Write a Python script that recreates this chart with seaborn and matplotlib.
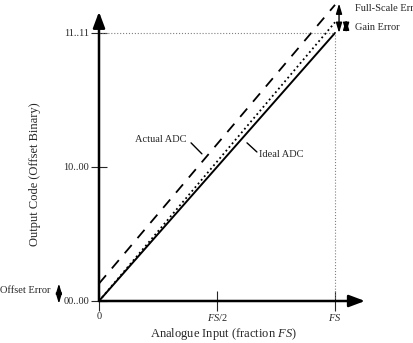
import numpy as np
import pandas as pd
import matplotlib
matplotlib.use("Agg")
import matplotlib.pyplot as plt
import seaborn as sns

# --- data (fraction of full scale) ---
x_input = [0.0, 1.0]
ideal_adc = [0.0, 1.0]
gain_only = [0.0, 1.04]
actual_adc = [0.065, 1.105]
x_ticks = [0.0, 0.5, 1.0]
x_tick_labels = ["0", "$FS$/2", "$FS$"]
y_ticks = [0.0, 0.5, 1.0]
y_tick_labels = ["00..00", "10..00", "11..11"]

df = pd.DataFrame({
    "x": x_input * 3,
    "y": ideal_adc + gain_only + actual_adc,
    "series": ["Ideal ADC"] * 2 + ["Gain"] * 2 + ["Actual ADC"] * 2,
})

sns.set_theme(style="white")
plt.rcParams["font.family"] = ["Liberation Serif", "DejaVu Serif"]
plt.rcParams["mathtext.fontset"] = "custom"
plt.rcParams["mathtext.it"] = "Liberation Serif:italic"
plt.rcParams["mathtext.rm"] = "Liberation Serif"

fig = plt.figure(figsize=(4.13, 3.43), dpi=100)
ax = fig.add_axes([99 / 413, 42 / 343, 266 / 413, 301 / 343])
ax.set_xlim(0, 1.127)
ax.set_ylim(0, 1.123)

styles = {"Ideal ADC": (1.4, "-"), "Gain": (1.3, ":"), "Actual ADC": (1.3, (0, (6, 5)))}
for name, (lw, ls) in styles.items():
    sub = df[df["series"] == name]
    sns.lineplot(data=sub, x="x", y="y", ax=ax, color="black", lw=lw,
                 linestyle=ls, legend=False, clip_on=False)

for s in ax.spines.values():
    s.set_visible(False)

# axis arrows
ax.annotate("", xy=(1.127, 0), xytext=(0, 0), annotation_clip=False,
            arrowprops=dict(arrowstyle="-|>,head_length=0.8,head_width=0.3",
                            color="black", lw=1.8, shrinkA=0, shrinkB=0))
ax.annotate("", xy=(0, 1.079), xytext=(0, 0), annotation_clip=False,
            arrowprops=dict(arrowstyle="-|>,head_length=0.8,head_width=0.3",
                            color="black", lw=1.8, shrinkA=0, shrinkB=0))

# reference dotted lines
ax.plot([0, 1], [1, 1], color="gray", lw=0.8, ls=":")
ax.plot([1, 1], [0, 1], color="gray", lw=0.8, ls=":")

ax.set_xticks(x_ticks)
ax.set_xticklabels(x_tick_labels)
ax.set_yticks(y_ticks)
ax.set_yticklabels(y_tick_labels)
ax.tick_params(direction="inout", width=0.8, labelsize=7.5, bottom=True, left=True)
ax.tick_params(axis="x", length=14, pad=1)
ax.tick_params(axis="y", length=12, pad=1)
ax.set_xlabel("")
ax.set_ylabel("")

# error arrows
dbl = dict(arrowstyle="<|-|>,head_length=0.5,head_width=0.15", color="black",
           lw=1.0, shrinkA=0, shrinkB=0)
ax.annotate("", xy=(1.017, 1.11), xytext=(1.017, 1.0), annotation_clip=False, arrowprops=dbl)
ax.annotate("", xy=(1.047, 1.05), xytext=(1.047, 1.0), annotation_clip=False, arrowprops=dbl)
ax.annotate("", xy=(-0.17, 0.065), xytext=(-0.17, -0.01), annotation_clip=False, arrowprops=dbl)

ax.text(1.085, 1.09, "Full-Scale Error", fontsize=7.5, va="center", ha="left", clip_on=False)
ax.text(1.085, 1.02, "Gain Error", fontsize=7.5, va="center", ha="left", clip_on=False)
ax.text(-0.205, 0.038, "Offset Error", fontsize=7.5, va="center", ha="right", clip_on=False)

# series labels with pointers
ax.text(0.369, 0.602, "Actual ADC", fontsize=7.5, ha="right", va="center")
ax.plot([0.390, 0.436], [0.590, 0.549], color="black", lw=1.0)
ax.text(0.678, 0.545, "Ideal ADC", fontsize=7.5, ha="left", va="center")
ax.plot([0.627, 0.669], [0.590, 0.556], color="black", lw=1.0)

# axis titles
ax.text(-0.271, 0.474, "Output Code (Offset Binary)", rotation=90, fontsize=9,
        ha="center", va="center", clip_on=False)
ax.text(0.525, -0.122, "Analogue Input (fraction $FS$)", fontsize=9,
        ha="center", va="center", clip_on=False)

fig.savefig("out.png", dpi=100)
